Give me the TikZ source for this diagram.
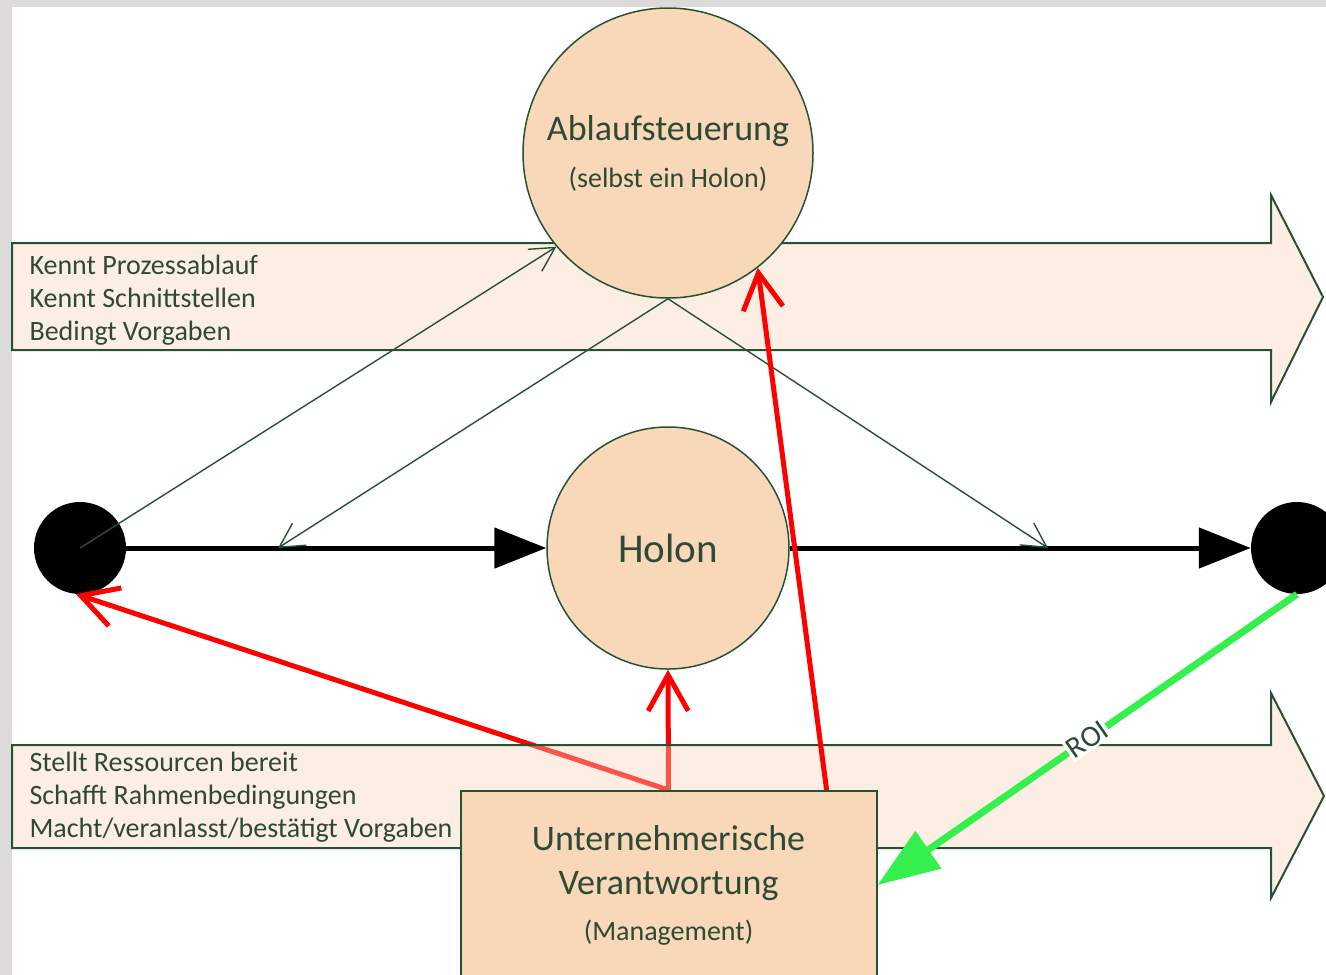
\documentclass[tikz,border=0pt]{standalone}
\usepackage{fontspec}
\setmainfont{Carlito}
\usetikzlibrary{arrows.meta}

\definecolor{dkgreen}{RGB}{38,82,52}
\definecolor{txtgreen}{RGB}{45,74,53}
\definecolor{peach}{RGB}{249,215,185}
\definecolor{bandpeach}{RGB}{250,212,185}
\definecolor{framegray}{RGB}{220,219,217}
\definecolor{roigreen}{RGB}{52,240,76}

\pgfdeclarelayer{bandlayer}
\pgfdeclarelayer{toplayer}
\pgfsetlayers{main,bandlayer,toplayer}

\tikzset{
  holon/.style={circle, draw=dkgreen, line width=1.5pt, fill=peach, inner sep=0pt, text=txtgreen},
  dot/.style={circle, fill=black, minimum size=92pt, inner sep=0pt},
  band/.style={draw=dkgreen, line width=2pt, fill=bandpeach, fill opacity=0.4},
  bandtext/.style={anchor=west, align=left, text=txtgreen, font=\fontsize{28}{33}\selectfont},
  flow/.style={line width=5pt, -{Triangle[length=52pt,width=40pt]}},
  info/.style={dkgreen, line width=1.4pt, -{Straight Barb[length=24pt,width=26pt]}},
  ctrl/.style={red, line width=5pt, -{Straight Barb[length=36pt,width=40pt]}},
  roi/.style={roigreen, line width=7pt, -{Triangle[length=62pt,width=44pt]}}
}

\begin{document}
\begin{tikzpicture}[x=1pt,y=-1pt]
    \useasboundingbox (0,0) rectangle (1326,975);
    \clip (0,0) rectangle (1326,975);
    % frame
    \fill[framegray] (0,0) rectangle (1326,7);
    \fill[framegray] (0,0) rectangle (12,975);

    % upper band
    \draw[band] (12,243) -- (1271,243) -- (1271,195) -- (1323,297) -- (1271,402) -- (1271,350) -- (12,350) -- cycle;
    \node[bandtext] (know) at (26,300) {Kennt Prozessablauf\\Kennt Schnittstellen\\Bedingt Vorgaben};

    % holons
    \node[holon, minimum size=290pt, font=\fontsize{36}{44}\selectfont, align=center] (abl) at (668,153)
      {Ablaufsteuerung\\[3pt]{\fontsize{28}{30}\selectfont(selbst ein Holon)}};
    \node[holon, minimum size=242pt, font=\fontsize{41}{48}\selectfont] (holon) at (668,548) {Holon};
    \node[dot] (src) at (80,548) {};
    \node[dot] (dst) at (1297,548) {};

    % process flow
    \draw[flow] (src) -- (holon);
    \draw[flow] (holon) -- (dst);

    % control
    \coordinate (inL) at (278,548);
    \coordinate (inR) at (1048,548);
    \draw[info] (src.center) -- (abl.220);
    \draw[info] (abl.south) -- (inL);
    \draw[info] (abl.south) -- (inR);

    % management
    \begin{pgfonlayer}{toplayer}
      \node[draw=dkgreen, line width=2pt, fill=peach, minimum width=416pt, minimum height=188pt,
        align=center, text=txtgreen, font=\fontsize{36}{44}\selectfont] (mgmt) at (668.5,885)
        {Unternehmerische\\Verantwortung\\[2pt]{\fontsize{28}{30}\selectfont(Management)}};
      \draw[ctrl] (mgmt.31) -- (abl.308);
      \draw[roi] (dst.south) -- node[sloped, fill=white, text=txtgreen, inner sep=1.5pt,
        font=\fontsize{30}{32}\selectfont] (roilabel) {ROI} (mgmt.east);
    \end{pgfonlayer}
    \draw[ctrl] (mgmt.north) -- (holon.south);
    \draw[ctrl] (mgmt.north) -- (src.265);

    % lower band
    \begin{pgfonlayer}{bandlayer}
      \draw[band] (12,745) -- (1271,745) -- (1271,693) -- (1324,796) -- (1271,898) -- (1271,848) -- (12,848) -- cycle;
      \node[bandtext] (does) at (26,797) {Stellt Ressourcen bereit\\Schafft Rahmenbedingungen\\Macht/veranlasst/bestätigt Vorgaben};
    \end{pgfonlayer}
\end{tikzpicture}
\end{document}
